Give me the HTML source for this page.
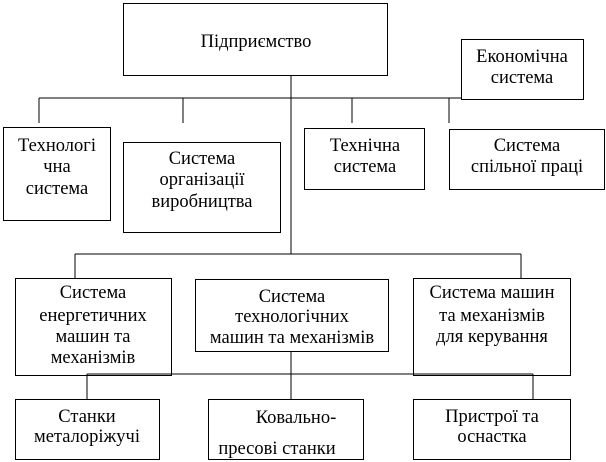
<!DOCTYPE html>
<html><head><meta charset="utf-8"><style>
html,body{margin:0;padding:0;background:#fff;}
svg{display:block;}
text{font-family:"Liberation Serif",serif;font-size:18.5px;fill:#000;text-anchor:middle;dominant-baseline:central;}
</style></head><body>
<svg width="606" height="462" viewBox="0 0 606 462" xmlns="http://www.w3.org/2000/svg">
<g fill="none" stroke="#000" stroke-width="1" shape-rendering="crispEdges">
<line x1="291" y1="75" x2="291" y2="254"/>
<line x1="39" y1="98" x2="461" y2="98"/>
<line x1="39" y1="98" x2="39" y2="123"/>
<line x1="183" y1="98" x2="183" y2="123"/>
<line x1="352" y1="98" x2="352" y2="123"/>
<line x1="449" y1="98" x2="449" y2="123"/>
<rect x="123.5" y="3.5" width="264" height="72"/>
<rect x="461.5" y="39.5" width="122" height="60"/>
<rect x="3.5" y="127.5" width="107" height="93"/>
<rect x="123.5" y="142.5" width="157" height="90"/>
<rect x="304.5" y="128.5" width="120" height="61"/>
<rect x="449.5" y="129.5" width="155" height="60"/>
<line x1="75" y1="254" x2="521" y2="254"/>
<line x1="75" y1="254" x2="75" y2="278"/>
<line x1="521" y1="254" x2="521" y2="278"/>
<rect x="15.5" y="278.5" width="156" height="97"/>
<rect x="195.5" y="279.5" width="193" height="72"/>
<rect x="413.5" y="278.5" width="157" height="97"/>
<line x1="87" y1="374" x2="533" y2="374"/>
<line x1="87" y1="374" x2="87" y2="399"/>
<line x1="533" y1="374" x2="533" y2="399"/>
<line x1="291" y1="351" x2="291" y2="399"/>
<rect x="15.5" y="399.5" width="144" height="60"/>
<rect x="208.5" y="399.5" width="155" height="60"/>
<rect x="413.5" y="399.5" width="157" height="60"/>
</g>
<text x="256" y="42">Підприємство</text>
<text x="522" y="57">Економічна</text>
<text x="522" y="78">система</text>
<text x="57" y="146">Технологі</text>
<text x="57" y="167">чна</text>
<text x="57" y="189">система</text>
<text x="202" y="159">Система</text>
<text x="202" y="180">організації</text>
<text x="202" y="202">виробництва</text>
<text x="365" y="146">Технічна</text>
<text x="365" y="167">система</text>
<text x="527" y="146">Система</text>
<text x="527" y="167">спільної праці</text>
<text x="93" y="293">Система</text>
<text x="93" y="316">енергетичних</text>
<text x="93" y="337">машин та</text>
<text x="93" y="358">механізмів</text>
<text x="292" y="297">Система</text>
<text x="292" y="317">технологічних</text>
<text x="292" y="338">машин та механізмів</text>
<text x="492" y="293">Система машин</text>
<text x="492" y="316">та механізмів</text>
<text x="492" y="337">для керування</text>
<text x="87" y="417">Станки</text>
<text x="87" y="437">металоріжучі</text>
<text x="296" y="418">Ковально-</text>
<text x="277" y="449">пресові станки</text>
<text x="492" y="417">Пристрої та</text>
<text x="492" y="437">оснастка</text>
<rect x="208" y="460" width="156" height="2" fill="#fff"/>
</svg>
</body></html>
